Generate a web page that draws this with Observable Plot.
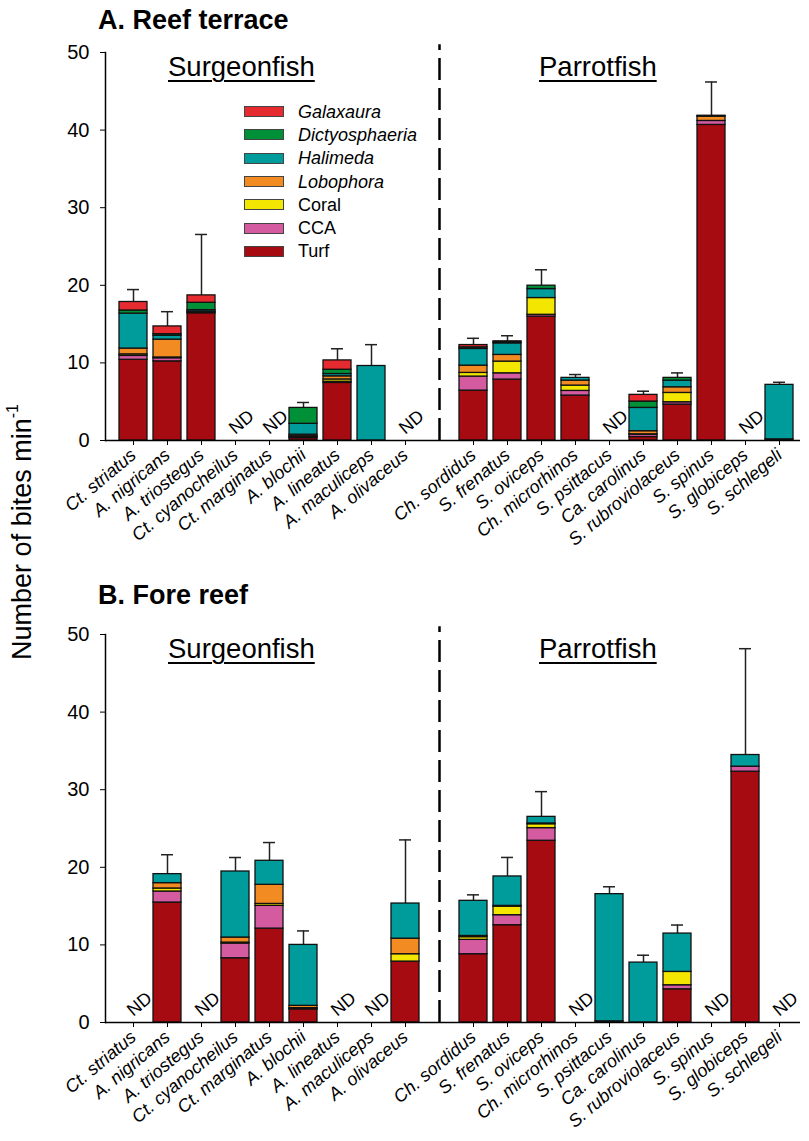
<!DOCTYPE html>
<html>
<head>
<meta charset="utf-8">
<script src="https://cdn.jsdelivr.net/npm/d3@7"></script>
<script src="https://cdn.jsdelivr.net/npm/@observablehq/plot@0.6"></script>
<style>
  body { margin: 0; background: #fff; font-family: "Liberation Sans", Arial, sans-serif; }
  #page { position: relative; width: 809px; height: 1141px; overflow: hidden; background: #fff; }
  .abs { position: absolute; line-height: 1; white-space: nowrap; color: #000; }
  .panel-title { font-size: 27px; font-weight: bold; }
  .group { font-size: 27.5px; text-decoration: underline; text-decoration-thickness: 2px; text-underline-offset: 4px; }
  .plot { position: absolute; left: 0; }
  #legend .row { display: flex; align-items: center; height: 23.3px; }
  #legend .sw { width: 38px; height: 9px; border: 1px solid #444; margin-right: 14px; }
  #legend .lab { font-size: 18px; }
  .ylab { font-size: 27px; transform: translate(-50%, -50%) rotate(-90deg); }
  .ylab sup { font-size: 16px; position: relative; top: -3px; }
</style>
</head>
<body>
<div id="page">
  <div class="abs panel-title" style="left:98px;top:7px">A. Reef terrace</div>
  <div class="abs panel-title" style="left:98px;top:582px">B. Fore reef</div>
  <div class="abs group" style="left:168px;top:53px">Surgeonfish</div>
  <div class="abs group" style="left:539px;top:53px">Parrotfish</div>
  <div class="abs group" style="left:168px;top:635px">Surgeonfish</div>
  <div class="abs group" style="left:539px;top:635px">Parrotfish</div>
  <div class="abs ylab" style="left:22px;top:532px">Number of bites min<sup>-1</sup></div>
  <div id="top" class="plot" style="top:0px"></div>
  <div id="bottom" class="plot" style="top:582px"></div>
  <div id="legend" class="abs" style="left:244px;top:100px"></div>
</div>
<script>
// Fish species, in plotting order
const surgeonfish = ["Ct. striatus", "A. nigricans", "A. triostegus", "Ct. cyanocheilus", "Ct. marginatus",
  "A. blochii", "A. lineatus", "A. maculiceps", "A. olivaceus"];
const parrotfish = ["Ch. sordidus", "S. frenatus", "S. oviceps", "Ch. microrhinos", "S. psittacus",
  "Ca. carolinus", "S. rubroviolaceus", "S. spinus", "S. globiceps", "S. schlegeli"];
const divider = "|";
const species = [...surgeonfish, ...parrotfish];

// Food items, stacked bottom to top
const foods = ["Turf", "CCA", "Coral", "Lobophora", "Halimeda", "Dictyosphaeria", "Galaxaura"];
const foodColors = ["#a50b10", "#d45ba0", "#f3e600", "#f28c22", "#009c9c", "#009038", "#e52a30"];
const italicFoods = ["Lobophora", "Halimeda", "Dictyosphaeria", "Galaxaura"];

// A. Reef terrace: bites per minute per food item (null = ND)
const terraceTurf  = [10.4, 10.2, 16.4, null, null, 0.3, 7.42, 0, null, 6.43, 7.85, 15.96, 5.79, null, 0.45, 4.63, 40.67, null, 0.15];
const terraceCCA   = [0.5, 0.4, 0.1, null, null, 0.15, 0.15, 0, null, 1.81, 0.81, 0.24, 0.6, null, 0.3, 0.3, 0.51, null, 0];
const terraceCoral = [0.2, 0.1, 0, null, null, 0.1, 0.3, 0, null, 0.47, 1.51, 2.16, 0.69, null, 0.05, 1.2, 0, null, 0];
const terraceLobophora = [0.75, 2.3, 0.1, null, null, 0.2, 0.4, 0, null, 0.94, 0.86, 0, 0.64, null, 0.4, 0.73, 0.56, null, 0];
const terraceHalimeda  = [4.5, 0.5, 0.2, null, null, 1.4, 0.3, 9.6, null, 2.15, 1.49, 1.16, 0.35, null, 3.0, 0.86, 0.05, null, 7.02];
const terraceDictyosphaeria = [0.4, 0.2, 0.95, null, null, 2.05, 0.55, 0, null, 0.2, 0.13, 0.43, 0, null, 0.82, 0.35, 0.06, null, 0];
const terraceGalaxaura = [1.1, 1.0, 0.95, null, null, 0, 1.2, 0, null, 0.3, 0.13, 0, 0, null, 0.86, 0, 0, null, 0];
const terraceSE = [1.6, 1.9, 7.85, null, null, 0.7, 1.5, 2.75, null, 0.87, 0.72, 2.05, 0.43, null, 0.47, 0.64, 4.35, null, 0.33];

// B. Fore reef: bites per minute per food item (null = ND)
const foreTurf  = [null, 15.46, null, 8.28, 12.1, 1.7, null, null, 7.85, 8.8, 12.54, 23.42, null, 0.15, 0, 4.28, null, 32.32, null];
const foreCCA   = [null, 1.42, null, 1.89, 2.93, 0.05, null, null, 0, 1.85, 1.29, 1.63, null, 0, 0, 0.52, null, 0.65, null];
const foreCoral = [null, 0.39, null, 0.13, 0.25, 0.1, null, null, 0.95, 0.35, 1.1, 0.5, null, 0, 0, 1.72, null, 0, null];
const foreLobophora = [null, 0.69, null, 0.65, 2.46, 0.3, null, null, 2.0, 0.15, 0.1, 0.1, null, 0, 0, 0, null, 0, null];
const foreHalimeda   = [null, 1.16, null, 8.51, 3.1, 7.85, null, null, 4.53, 4.53, 3.79, 0.85, null, 16.39, 7.72, 4.94, null, 1.5, null];
const foreDictyosphaeria = [null, 0, null, 0, 0, 0, null, null, 0, 0, 0, 0, null, 0, 0, 0, null, 0, null];
const foreGalaxaura = [null, 0, null, 0, 0, 0, null, null, 0, 0, 0, 0, null, 0, 0, 0, null, 0, null];
const foreSE = [null, 2.5, null, 1.8, 2.35, 1.8, null, null, 8.2, 0.77, 2.45, 3.25, null, 0.95, 0.95, 1.1, null, 13.7, null];

const terrace = [terraceTurf, terraceCCA, terraceCoral, terraceLobophora, terraceHalimeda, terraceDictyosphaeria, terraceGalaxaura];
const fore = [foreTurf, foreCCA, foreCoral, foreLobophora, foreHalimeda, foreDictyosphaeria, foreGalaxaura];

const fontFamily = '"Liberation Sans", Arial, sans-serif';

function panel(series, se) {
  const rows = [];
  species.forEach((s, i) => foods.forEach((f, j) => {
    const v = series[j][i];
    if (v) rows.push({species: s, food: f, value: v});
  }));
  const totals = species
    .map((s, i) => ({species: s, total: series[0][i] == null ? null : d3.sum(series, a => a[i]), se: se[i]}))
    .filter(d => d.total != null && d.se > 0);
  const nd = species.filter((s, i) => series[0][i] == null);

  return Plot.plot({
    width: 809,
    height: 559,
    marginTop: 52,
    marginBottom: 119,
    marginLeft: 105,
    marginRight: 9,
    style: {fontFamily, fontSize: "18px", color: "#000", background: "transparent", overflow: "visible"},
    x: {type: "band", domain: [...surgeonfish, divider, ...parrotfish], range: [116, 795.3], paddingInner: 0.183, paddingOuter: 0},
    y: {domain: [0, 50]},
    color: {domain: foods, range: foodColors},
    marks: [
      Plot.ruleX([divider], {y1: 0, y2: 51, stroke: "#000", strokeWidth: 2.5, strokeDasharray: "22,8"}),
      Plot.ruleX(totals, {x: "species", y1: "total", y2: d => d.total + d.se, stroke: "#222", strokeWidth: 1.5}),
      Plot.tickY(totals, {x: "species", y: d => d.total + d.se, insetLeft: 8, insetRight: 8, stroke: "#222", strokeWidth: 1.5}),
      Plot.barY(rows, {x: "species", y: "value", fill: "food", order: foods, stroke: "#111", strokeWidth: 1.3}),
      Plot.text(nd, {x: d => d, y: 0, text: () => "ND", rotate: -40, textAnchor: "start", dx: -4, dy: -10, fontSize: 18, fill: "#000"}),
      Plot.ruleY([0], {stroke: "#000", strokeWidth: 1.5}),
      Plot.frame({anchor: "left", stroke: "#000", strokeWidth: 1.5}),
      Plot.axisY({ticks: [0, 10, 20, 30, 40, 50], tickSize: 5, tickPadding: 11, fontSize: 20, label: null, stroke: "#000"}),
      Plot.axisX({ticks: species, tickRotate: -40, tickSize: 5, fontSize: 18, fontStyle: "italic", label: null, stroke: "#000"})
    ]
  });
}

document.getElementById("top").append(panel(terrace, terraceSE));
document.getElementById("bottom").append(panel(fore, foreSE));

// Legend: food items listed top to bottom
const legend = d3.select("#legend");
foods.slice().reverse().forEach(f => {
  const row = legend.append("div").attr("class", "row");
  row.append("span").attr("class", "sw").style("background", foodColors[foods.indexOf(f)]);
  row.append("span").attr("class", "lab").style("font-style", italicFoods.includes(f) ? "italic" : "normal").text(f);
});
</script>
</body>
</html>
